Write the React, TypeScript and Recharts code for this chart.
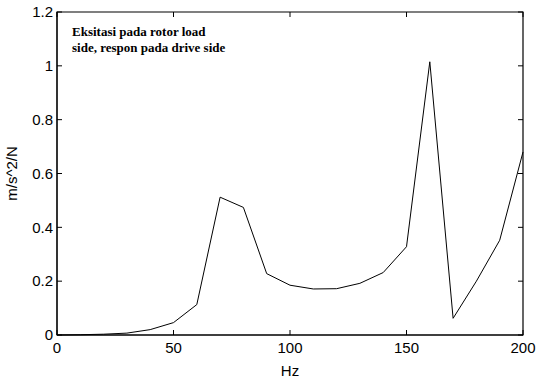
import React from "react";
import { LineChart, Line, XAxis, YAxis, Label, ReferenceArea } from "recharts";

const freqHz = [0, 10, 20, 30, 40, 50, 60, 70, 80, 90, 100, 110, 120, 130, 140, 150, 160, 170, 180, 190, 200];
const response = [0, 0.001, 0.003, 0.007, 0.02, 0.046, 0.113, 0.512, 0.474, 0.228, 0.185, 0.171, 0.172, 0.192, 0.232, 0.328, 1.015, 0.062, 0.2, 0.352, 0.68];
const xTicks = [0, 50, 100, 150, 200];
const yTicks = [0, 0.2, 0.4, 0.6, 0.8, 1, 1.2];
const annotation = ["Eksitasi pada rotor load", "side, respon pada drive side"];

const data = freqHz.map((f, i) => ({ f, v: response[i] }));

const W = 543;
const H = 384;
const MARGIN = { top: 12, right: 20, bottom: 19, left: 12 };
const PLOT_TOP = MARGIN.top;
const PLOT_RIGHT = W - MARGIN.right;
const X_AXIS_H = 30;
const Y_AXIS_W = 45;
const PLOT_LEFT = MARGIN.left + Y_AXIS_W;
const PLOT_BOTTOM = H - MARGIN.bottom - X_AXIS_H;
const TICK_LEN = 5;
const X_MARGIN = 6;
const Y_MARGIN = 4;

const font = { fontFamily: "Liberation Sans, Arial, sans-serif", fontSize: 15 };

const XTick = (props: any) => {
  const { x, payload } = props;
  return (
    <g>
      <line x1={x} x2={x} y1={PLOT_BOTTOM} y2={PLOT_BOTTOM - TICK_LEN} stroke="#000" />
      <line x1={x} x2={x} y1={PLOT_TOP} y2={PLOT_TOP + TICK_LEN} stroke="#000" />
      <text x={x} y={PLOT_BOTTOM + X_MARGIN} dy="0.8em" textAnchor="middle" fill="#000" style={font}>
        {String(payload.value)}
      </text>
    </g>
  );
};

const YTick = (props: any) => {
  const { y, payload } = props;
  return (
    <g>
      <line x1={PLOT_LEFT} x2={PLOT_LEFT + TICK_LEN} y1={y} y2={y} stroke="#000" />
      <line x1={PLOT_RIGHT} x2={PLOT_RIGHT - TICK_LEN} y1={y} y2={y} stroke="#000" />
      <text x={PLOT_LEFT - Y_MARGIN} y={y} dy="0.35em" textAnchor="end" fill="#000" style={font}>
        {String(payload.value)}
      </text>
    </g>
  );
};

export default function App() {
  return (
    <div style={{ position: "absolute", left: 0, top: 0, width: W, height: H, background: "#fff" }}>
      <LineChart width={W} height={H} data={data} margin={MARGIN}>
        <XAxis
          dataKey="f"
          type="number"
          domain={[0, 200]}
          ticks={xTicks}
          height={X_AXIS_H}
          axisLine={{ stroke: "#000", strokeWidth: 1 }}
          tickLine={false}
          tickSize={0}
          tick={<XTick />}
          interval={0}
        >
          <Label
            content={({ viewBox }: any) => (
              <text x={viewBox.x + viewBox.width / 2} y={viewBox.y + 41} textAnchor="middle" style={font} fill="#000">
                Hz
              </text>
            )}
          />
        </XAxis>
        <YAxis
          type="number"
          domain={[0, 1.2]}
          ticks={yTicks}
          width={Y_AXIS_W}
          axisLine={{ stroke: "#000", strokeWidth: 1 }}
          tickLine={false}
          tickSize={0}
          tick={<YTick />}
          interval={0}
        >
          <Label
            content={({ viewBox }: any) => (
              <text
                x={17}
                y={viewBox.y + viewBox.height / 2}
                textAnchor="middle"
                transform={`rotate(-90 17 ${viewBox.y + viewBox.height / 2})`}
                style={font}
                fill="#000"
              >
                m/s^2/N
              </text>
            )}
          />
        </YAxis>
        <ReferenceArea x1={0} x2={200} y1={0} y2={1.2} fill="none" fillOpacity={0} stroke="#000" strokeWidth={1.2} />
        <Line
          dataKey="v"
          type="linear"
          stroke="#000"
          strokeWidth={1}
          dot={false}
          isAnimationActive={false}
        />
      </LineChart>
      <div
        style={{
          position: "absolute",
          left: 72,
          top: 24,
          fontFamily: "Liberation Serif, Times New Roman, serif",
          fontWeight: "bold",
          fontSize: 13,
          lineHeight: "16px",
          color: "#000",
          whiteSpace: "nowrap",
        }}
      >
        {annotation.map((t) => (
          <div key={t}>{t}</div>
        ))}
      </div>
    </div>
  );
}
